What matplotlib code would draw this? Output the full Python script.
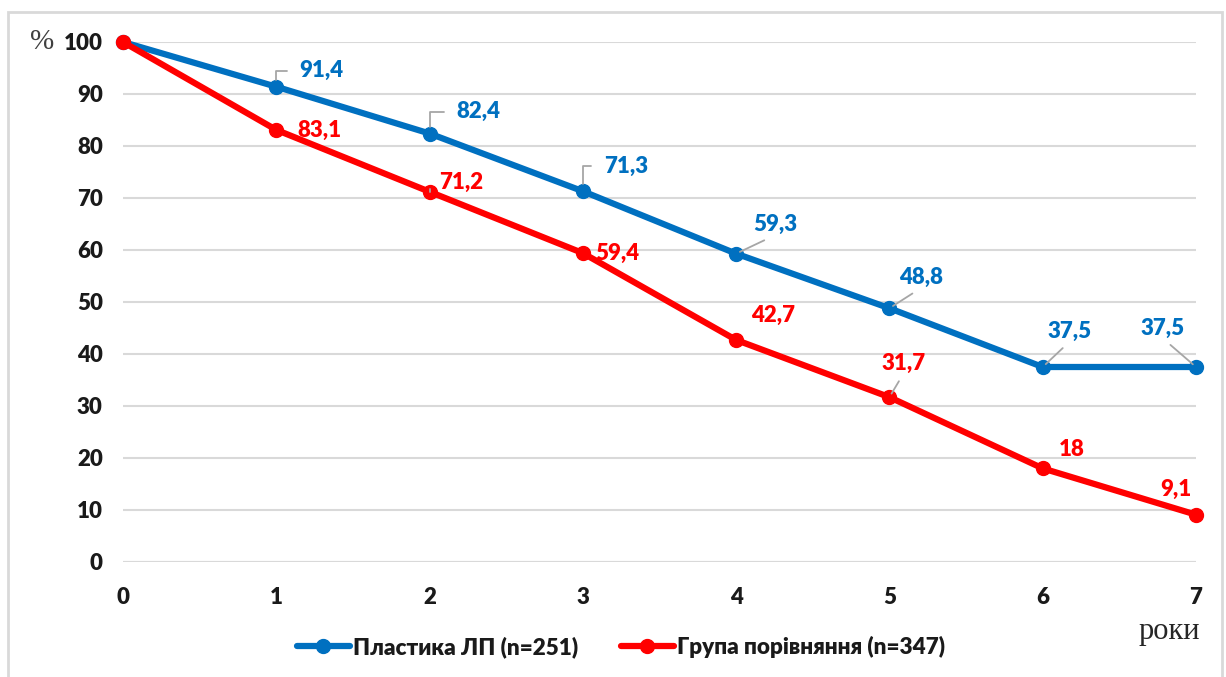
import matplotlib
matplotlib.use("Agg")
import matplotlib.pyplot as plt
from matplotlib.patches import Rectangle

years = [0, 1, 2, 3, 4, 5, 6, 7]
plastic = [100, 91.4, 82.4, 71.3, 59.3, 48.8, 37.5, 37.5]
control = [100, 83.1, 71.2, 59.4, 42.7, 31.7, 18, 9.1]
plastic_labels = ["", "91,4", "82,4", "71,3", "59,3", "48,8", "37,5", "37,5"]
control_labels = ["", "83,1", "71,2", "59,4", "42,7", "31,7", "18", "9,1"]
name_plastic = "Пластика ЛП (n=251)"
name_control = "Група порівняння (n=347)"

BLUE = "#0070C0"
RED = "#FF0000"
FONT = "Lato"
FS = 16
WT = "heavy"

fig = plt.figure(figsize=(12.26, 6.77), dpi=100)
fig.patches.append(Rectangle((8/1226, -0.05), (1222-8)/1226, 1.05 - 12/677,
                             transform=fig.transFigure, fill=False,
                             edgecolor="#d9d9d9", linewidth=2))
ax = fig.add_axes([123/1226, 1-562/677, (1196-123)/1226, (562-42)/677])
ax.set_xlim(0, 7)
ax.set_ylim(0, 100)
ax.set_yticks(range(0, 101, 10))
ax.set_xticks(years)
ax.grid(axis="y", color="#d9d9d9", linewidth=1.5)
ax.set_axisbelow(True)
for s in ax.spines.values():
    s.set_visible(False)
ax.axhline(0, color="#d9d9d9", linewidth=1.5, zorder=0)
ax.tick_params(length=0, labelsize=FS, labelcolor="#1a1a1a")
ax.tick_params(axis="y", pad=14.5)
ax.tick_params(axis="x", pad=18)
for lab in ax.get_xticklabels() + ax.get_yticklabels():
    lab.set_fontweight(WT)
    lab.set_family(FONT)

lp, = ax.plot(years, plastic, color=BLUE, lw=4.5, marker="o", ms=10, clip_on=False,
              solid_capstyle="round", label=name_plastic, zorder=3)
lc, = ax.plot(years, control, color=RED, lw=4.5, marker="o", ms=10, clip_on=False,
              solid_capstyle="round", label=name_control, zorder=4)

# label offsets in pixels (text centre relative to marker), leader style
blue_off = [None, (45, 16, "br"), (49, 22, "br"), (43, 25, "br"), (39, 29, "diag"),
            (32, 31, "diag"), (27, 36, "diag"), (-33, 39, "diag")]
red_off = [None, (43, -1, None), (32, 9, "br"), (34, 0, None), (37, 25, None),
           (14, 34, "diag"), (29, 19, None), (-20, 25, None)]

def put(vals, labels, offs, color):
    for x, v, t, o in zip(years, vals, labels, offs):
        if o is None:
            continue
        dx, dy, kind = o
        kw = dict(textcoords="offset pixels", xytext=(dx, dy), ha="center", va="center",
                  color=color, fontsize=FS, fontweight=WT, family=FONT, zorder=6)
        if kind == "br":
            kw["arrowprops"] = dict(arrowstyle="-", color="#a6a6a6", lw=1.3,
                                    connectionstyle="angle,angleA=0,angleB=90,rad=0",
                                    relpos=(0, 0.5), shrinkA=7, shrinkB=5)
        elif kind == "diag":
            kw["arrowprops"] = dict(arrowstyle="-", color="#a6a6a6", lw=1.3,
                                    relpos=(0.5, 0), shrinkA=4, shrinkB=3)
        ax.annotate(t, xy=(x, v), **kw)

put(plastic, plastic_labels, blue_off, BLUE)
put(control, control_labels, red_off, RED)

fig.text(42/1226, 1-42/677, "%", family="Liberation Serif", fontsize=21,
         color="#404040", ha="center", va="center")
fig.text(1169/1226, 1-632/677, "роки", family="Liberation Serif", fontsize=22,
         color="#262626", ha="center", va="center")

leg = fig.legend(handles=[lp, lc], loc="center", bbox_to_anchor=(621/1226, 1-647/677),
                 ncol=2, frameon=False, handlelength=2.35, handletextpad=0.15,
                 columnspacing=1.9, prop=dict(family=FONT, weight=WT, size=16.2))
for t in leg.get_texts():
    t.set_color("#1a1a1a")

fig.savefig("out.png", dpi=100)
